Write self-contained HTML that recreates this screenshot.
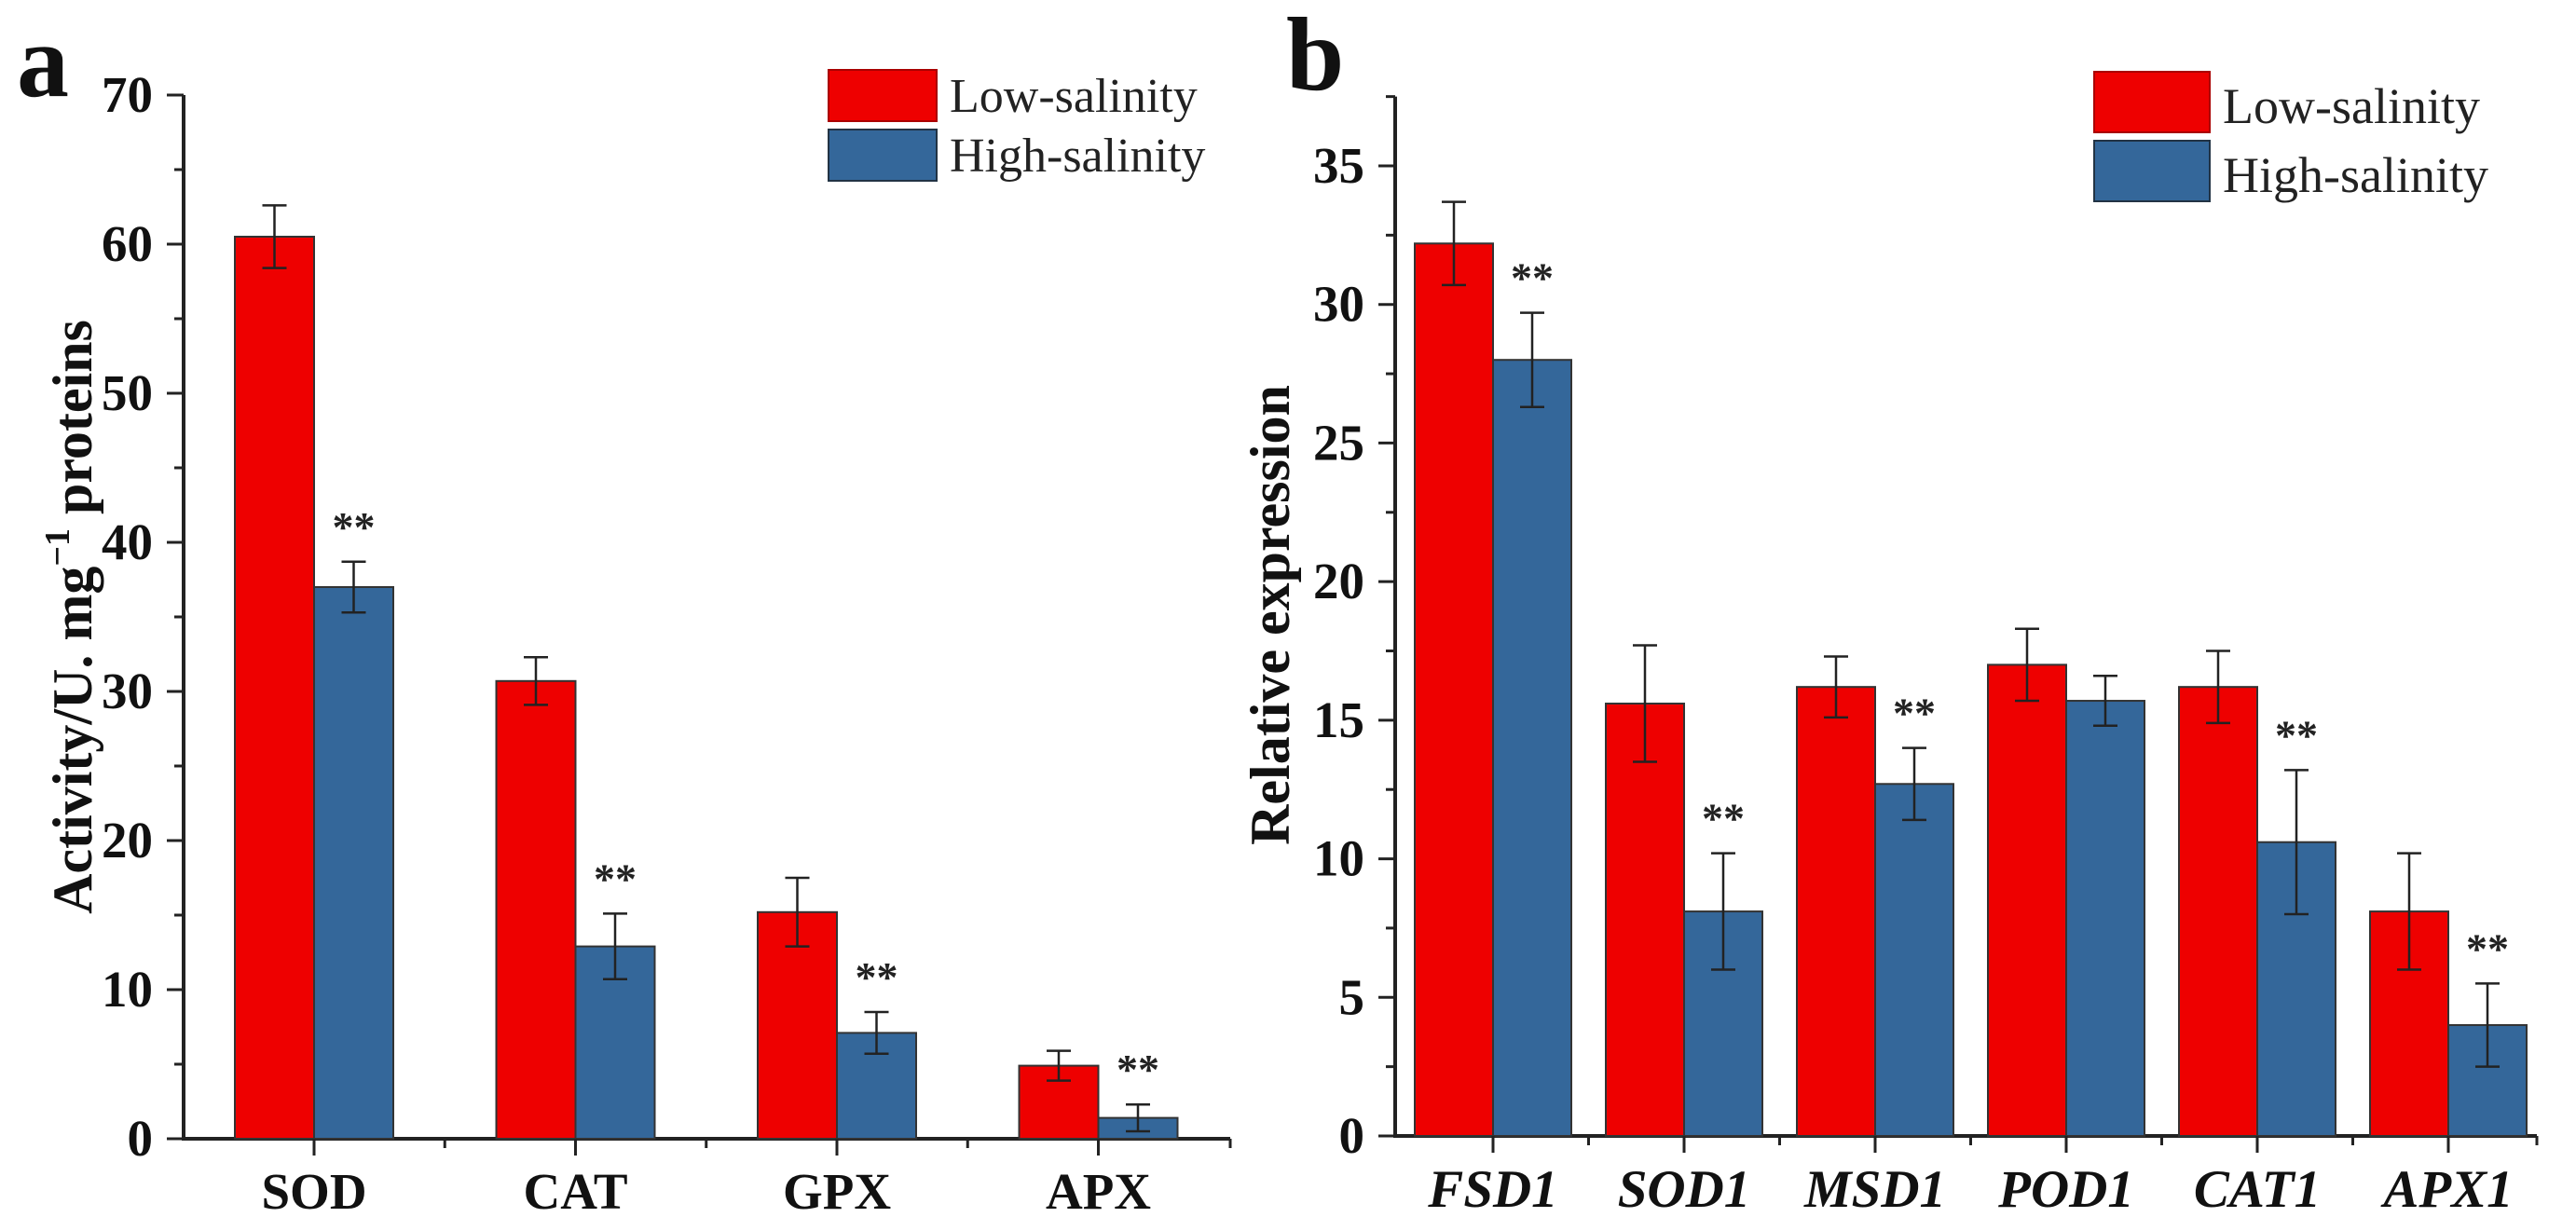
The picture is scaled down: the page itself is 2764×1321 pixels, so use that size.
<!DOCTYPE html>
<html><head><meta charset="utf-8">
<style>
html,body{margin:0;padding:0;background:#fff;}
svg{display:block;font-family:"Liberation Serif",serif;}
</style></head>
<body>
<svg id="chart" width="2764" height="1321" viewBox="0 0 2764 1321" xmlns="http://www.w3.org/2000/svg">
<rect width="2764" height="1321" fill="#fff"/>
<g id="pa"></g>
<g id="pb"></g>
</svg>
<script>
// Panel a data
const catsA = ["SOD","CAT","GPX","APX"];
const lowA = [60.5, 30.7, 15.2, 4.9];
const lowErrA = [2.1, 1.6, 2.3, 1.0];
const highA = [37.0, 12.9, 7.1, 1.4];
const highErrA = [1.7, 2.2, 1.4, 0.9];
const sigA = ["**","**","**","**"];
const ticksA = [0,10,20,30,40,50,60,70];
// Panel b data
const catsB = ["FSD1","SOD1","MSD1","POD1","CAT1","APX1"];
const lowB = [32.2, 15.6, 16.2, 17.0, 16.2, 8.1];
const lowErrB = [1.5, 2.1, 1.1, 1.3, 1.3, 2.1];
const highB = [28.0, 8.1, 12.7, 15.7, 10.6, 4.0];
const highErrB = [1.7, 2.1, 1.3, 0.9, 2.6, 1.5];
const sigB = ["**","**","**","","**","**"];
const ticksB = [0,5,10,15,20,25,30,35];

const NS = "http://www.w3.org/2000/svg";
function mk(parent, tag, attrs, text){
  const e = document.createElementNS(NS, tag);
  for (const k in attrs) e.setAttribute(k, attrs[k]);
  if (text !== undefined) e.textContent = text;
  parent.appendChild(e);
  return e;
}
const RED = "#ee0000", BLUE = "#34679a";

function panel(g, cfg){
  const y = v => cfg.y0 - (v - 0) * (cfg.y0 - cfg.yTop) / cfg.vmax;
  const x = i => cfg.c0 + i * cfg.step;
  let ax = mk(g, "line", {x1:cfg.ax, y1:y(cfg.axTop), x2:cfg.ax, y2:cfg.y0+2, stroke:"#222", "stroke-width":4});
  
  
  let xa = mk(g, "line", {x1:cfg.ax, y1:cfg.y0, x2:cfg.xEnd, y2:cfg.y0, stroke:"#222", "stroke-width":4});
  
  
  mk(g, "line", {x1:cfg.xEnd, y1:cfg.y0, x2:cfg.xEnd, y2:cfg.y0+10, stroke:"#222", "stroke-width":3});
  cfg.ticks.forEach((t, k) => {
    mk(g, "line", {x1:cfg.ax-18, y1:y(t), x2:cfg.ax, y2:y(t), stroke:"#222", "stroke-width":3});
    const lab = mk(g, "text", {x:cfg.ax-33, y:y(t)+18, "text-anchor":"end", "font-size":55, "font-weight":"bold", fill:"#111"}, String(t));
    
    
    const m = t + (cfg.ticks[1] - cfg.ticks[0]) / 2;
    if (m <= cfg.axTop) mk(g, "line", {x1:cfg.ax-10, y1:y(m), x2:cfg.ax, y2:y(m), stroke:"#222", "stroke-width":3});
  });
  cfg.cats.forEach((c, i) => {
    const cx = x(i), w = cfg.bw;
    [[cfg.low, cfg.lowErr, RED, cx - w, 'bar-low'], [cfg.high, cfg.highErr, BLUE, cx, 'bar-high']].forEach(([vals, errs, col, bx, nm]) => {
      const v = vals[i];
      const r = mk(g, "rect", {x:bx, y:y(v), width:w, height:cfg.y0 - y(v), fill:col, stroke:"#333", "stroke-width":2});
      
      
      const ex = bx + w/2;
      mk(g, "line", {x1:ex, y1:y(v+errs[i]), x2:ex, y2:y(v-errs[i]), stroke:"#222", "stroke-width":2.5});
      mk(g, "line", {x1:ex-13, y1:y(v+errs[i]), x2:ex+13, y2:y(v+errs[i]), stroke:"#222", "stroke-width":2.5});
      mk(g, "line", {x1:ex-13, y1:y(v-errs[i]), x2:ex+13, y2:y(v-errs[i]), stroke:"#222", "stroke-width":2.5});
    });
    if (cfg.sig[i]) {
      const s = mk(g, "text", {x:cx + w/2, y:y(cfg.high[i] + cfg.highErr[i]) - 22, "text-anchor":"middle", "font-size":46, "font-weight":"bold", fill:"#222"}, cfg.sig[i]);
      
      
    }
    mk(g, "line", {x1:cx, y1:cfg.y0, x2:cx, y2:cfg.y0+18, stroke:"#222", "stroke-width":3});
    if (i < cfg.cats.length - 1) mk(g, "line", {x1:cx+cfg.step/2, y1:cfg.y0, x2:cx+cfg.step/2, y2:cfg.y0+10, stroke:"#222", "stroke-width":3});
    const cl = mk(g, "text", {x:cx, y:cfg.labY, "text-anchor":"middle", "font-size":cfg.catFont, "font-weight":"bold", "font-style":cfg.italic ? "italic" : "normal", fill:"#111"}, c);
    
    
  });
  const tt = mk(g, "text", {transform:`translate(${cfg.titleX},${cfg.titleY}) rotate(-90)`, "text-anchor":"middle", "font-size":60, "font-weight":"bold", fill:"#111"});
  
  
  cfg.title(tt);
  const pl = mk(g, "text", {x:cfg.letterX, y:cfg.letterY, "font-size":112, "font-weight":"bold", fill:"#111"}, cfg.letter);
  
  
  const L = cfg.leg;
  const r1 = mk(g, "rect", {x:L.x, y:L.y, width:L.w, height:L.h, fill:RED, stroke:"#a00", "stroke-width":2});
  
  
  const r2 = mk(g, "rect", {x:L.x, y:L.y+L.gap, width:L.w, height:L.h, fill:BLUE, stroke:"#234", "stroke-width":2});
  
  
  const t1 = mk(g, "text", {x:L.tx, y:L.y+L.h-10, "font-size":L.fs, fill:"#222"}, "Low-salinity");
  
  
  const t2 = mk(g, "text", {x:L.tx, y:L.y+L.gap+L.h-10, "font-size":L.fs, fill:"#222"}, "High-salinity");
  
  
}

panel(document.getElementById("pa"), {
  cats:catsA, low:lowA, lowErr:lowErrA, high:highA, highErr:highErrA, sig:sigA, ticks:ticksA,
  vmax:70, axTop:70, y0:1222, yTop:102, ax:197, xEnd:1320, c0:337, step:280.5, bw:85,
  labY:1297, catFont:55, italic:false,
  titleX:98, titleY:662,
  title: t => { t.appendChild(document.createTextNode("Activity/U. mg"));
    const s = document.createElementNS(NS, "tspan"); s.setAttribute("dy", "-24"); s.setAttribute("font-size", "38"); s.textContent = "\u22121"; t.appendChild(s);
    const p = document.createElementNS(NS, "tspan"); p.setAttribute("dy", "24"); p.textContent = " proteins"; t.appendChild(p); },
  letter:"a", letterX:18, letterY:103,
  leg:{x:889, y:75, w:116, h:55, gap:64, tx:1019, fs:52}
});
panel(document.getElementById("pb"), {
  cats:catsB, low:lowB, lowErr:lowErrB, high:highB, highErr:highErrB, sig:sigB, ticks:ticksB,
  vmax:35, axTop:37.5, y0:1219, yTop:178, ax:1497, xEnd:2722, c0:1602, step:205, bw:84,
  labY:1295, catFont:57, italic:true,
  titleX:1383, titleY:660,
  title: t => { t.textContent = "Relative expression"; },
  letter:"b", letterX:1380, letterY:96,
  leg:{x:2247, y:77, w:124, h:65, gap:74, tx:2385, fs:54}
});
</script>
</body></html>
